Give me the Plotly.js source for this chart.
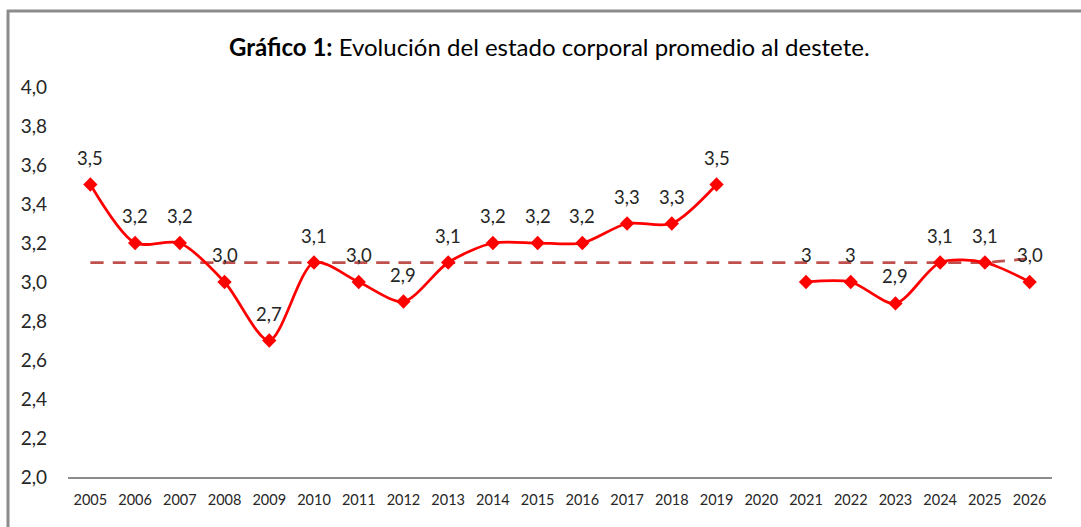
<!DOCTYPE html>
<html>
<head>
<meta charset="utf-8">
<script src="https://cdn.plot.ly/plotly-3.0.1.min.js"></script>
<style>
html,body{margin:0;padding:0;background:#fff;}
#chart{width:1081px;height:527px;}
</style>
</head>
<body>
<div id="chart"></div>
<script>
const years = ['2005','2006','2007','2008','2009','2010','2011','2012','2013','2014','2015','2016','2017','2018','2019','2020','2021','2022','2023','2024','2025','2026'];
const values = [3.5,3.2,3.2,3.0,2.7,3.1,3.0,2.9,3.1,3.2,3.2,3.2,3.3,3.3,3.5,null,3.0,3.0,2.89,3.1,3.1,3.0];
const valueLabels = ['3,5','3,2','3,2','3,0','2,7','3,1','3,0','2,9','3,1','3,2','3,2','3,2','3,3','3,3','3,5','','3','3','2,9','3,1','3,1','3,0'];
const average = [3.1,3.1,3.1,3.1,3.1,3.1,3.1,3.1,3.1,3.1,3.1,3.1,3.1,3.1,3.1,3.1,3.1,3.1,3.1,3.1,3.1,3.12];
const yTickVals = [2.0,2.2,2.4,2.6,2.8,3.0,3.2,3.4,3.6,3.8,4.0];
const yTickText = ['2,0','2,2','2,4','2,6','2,8','3,0','3,2','3,4','3,6','3,8','4,0'];

const FONT = 'Lato, "Open Sans", sans-serif';

const traces = [
  {
    x: years, y: average, type: 'scatter', mode: 'lines',
    line: {color: '#C0504D', width: 2.75, dash: '13px,9px', shape: 'spline', smoothing: 0.6},
    hoverinfo: 'skip', showlegend: false
  },
  {
    x: years, y: values, type: 'scatter', mode: 'lines+markers',
    connectgaps: false,
    line: {color: '#FF0000', width: 2.75, shape: 'spline', smoothing: 0.8},
    marker: {symbol: 'diamond', size: 11, color: '#FF0000'},
    showlegend: false
  }
];

const annotations = [];
years.forEach((yr, i) => {
  if (values[i] === null) return;
  annotations.push({
    x: i, y: values[i], xref: 'x', yref: 'y', text: valueLabels[i],
    showarrow: false, yshift: 27,
    font: {family: FONT, size: 18.5, color: '#262626'}
  });
});

annotations.push({
  xref: 'paper', yref: 'paper', x: 0.489, y: 1.0, yshift: 57, showarrow: false,
  text: '<b>Gráfico 1:</b> Evolución del estado corporal promedio al destete.',
  font: {family: FONT, size: 24, color: '#000000'}
});

const L = 68, R = 29, T = 87, B = 50, W = 1081 - L - R, H = 527 - T - B;
const px = v => (v - L) / W;
const py = v => 1 - (v - T) / H;

const layout = {
  width: 1081, height: 527,
  margin: {l: L, r: R, t: T, b: B, pad: 0},
  paper_bgcolor: '#ffffff', plot_bgcolor: '#ffffff',
  font: {family: FONT},
  xaxis: {
    type: 'category', range: [-0.5, 21.5],
    showgrid: false, zeroline: false,
    showline: true, linecolor: '#8c8c8c', linewidth: 2,
    ticks: '', ticklabelstandoff: 9,
    tickfont: {family: FONT, size: 14.5, color: '#262626'},
    fixedrange: true
  },
  yaxis: {
    range: [2.0, 4.0], tickvals: yTickVals, ticktext: yTickText,
    showgrid: false, zeroline: false, showline: false,
    ticks: '', ticklabelstandoff: 20,
    tickfont: {family: FONT, size: 19, color: '#262626'},
    fixedrange: true
  },
  annotations: annotations,
  shapes: [
    {type: 'line', xref: 'paper', yref: 'paper', x0: px(8), x1: px(8), y0: py(10), y1: py(527), line: {color: '#8c8c8c', width: 3}},
    {type: 'line', xref: 'paper', yref: 'paper', x0: px(7), x1: px(1081), y0: py(11), y1: py(11), line: {color: '#8c8c8c', width: 3}}
  ]
};

Plotly.newPlot('chart', traces, layout, {displayModeBar: false, staticPlot: true});
</script>
</body>
</html>
